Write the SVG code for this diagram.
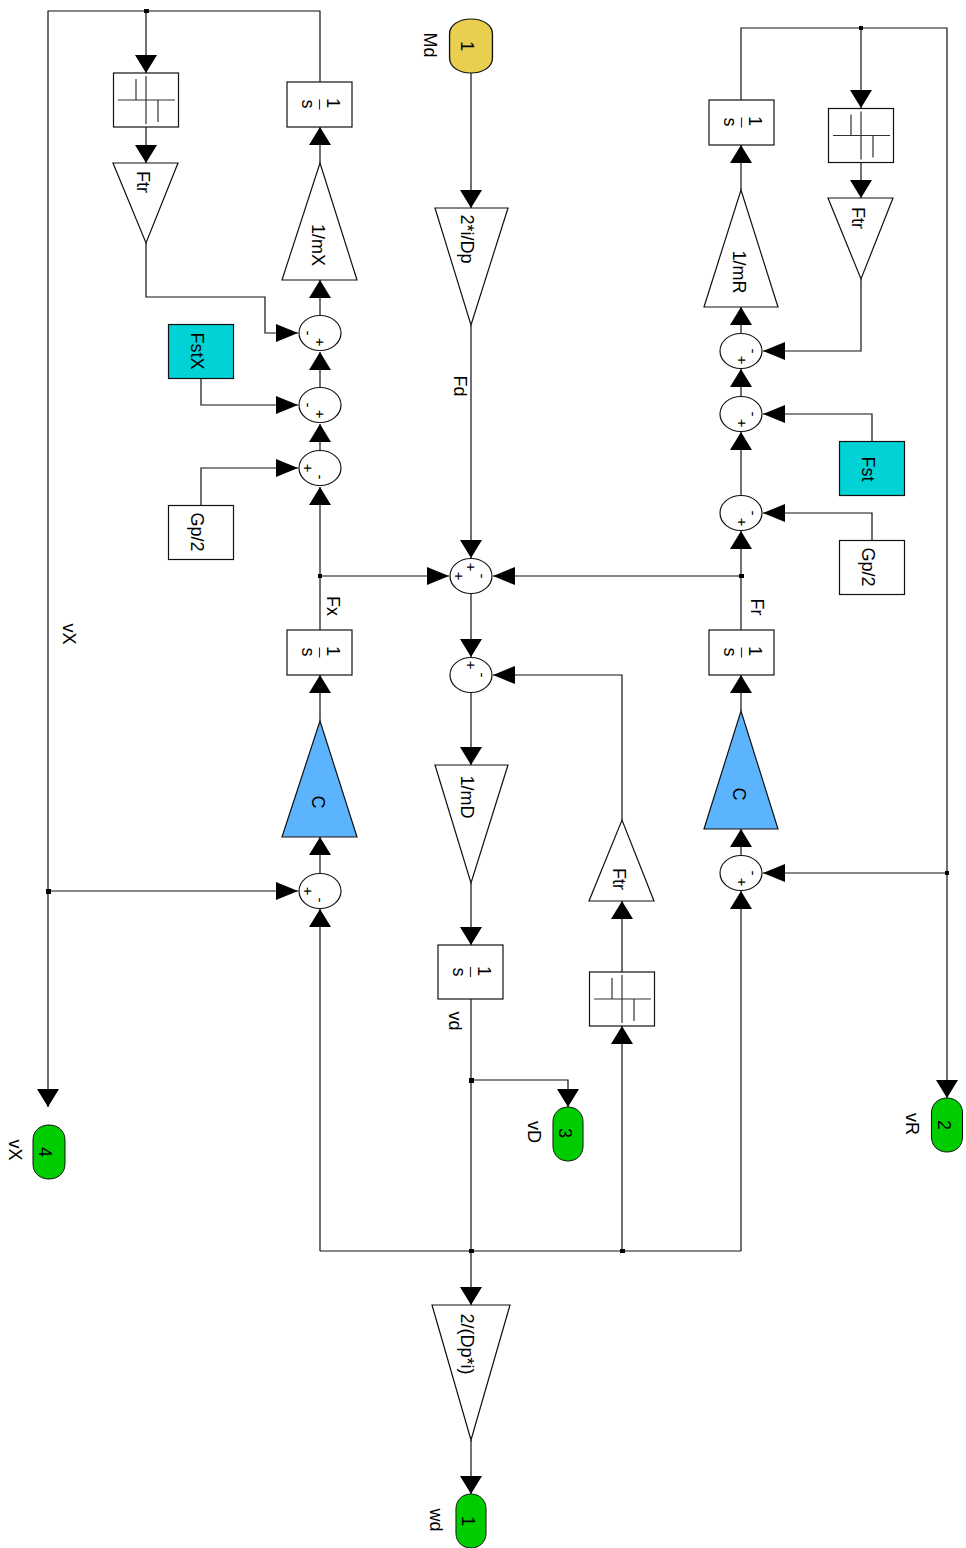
<svg xmlns="http://www.w3.org/2000/svg" width="966" height="1548" viewBox="0 0 966 1548">
<style>
text{font-family:"Liberation Sans",Arial,sans-serif;font-size:18px;fill:#000;text-anchor:middle}
.s{font-size:15px}
.b{fill:#fff;stroke:#111;stroke-width:1.2}
.c{fill:#00d2d6;stroke:#111;stroke-width:1.2}
.t{fill:#5cb4ff;stroke:#111;stroke-width:1.2}
.g{fill:#00cd00;stroke:#111;stroke-width:1}
.y{fill:#e8cf50;stroke:#111;stroke-width:1}
.w{fill:none;stroke:#111;stroke-width:1.2}
.a{marker-end:url(#a)}
.h{marker-end:url(#h)}
.k{fill:none;stroke:#333;stroke-width:1.2}
</style>
<defs>
<marker id="a" markerUnits="userSpaceOnUse" markerWidth="19" markerHeight="24" refX="18" refY="12" orient="auto"><path d="M0,1 L18,12 L0,23z" fill="#000"/></marker>
<marker id="h" markerUnits="userSpaceOnUse" markerWidth="23" markerHeight="20" refX="22" refY="10" orient="auto"><path d="M0,1 L22,10 L0,19z" fill="#000"/></marker>
<g id="sw"><rect class="b" x="-32.500" y="-27" width="65" height="54"/><path class="k" d="M-28,0H29M0,-24V24M-10,-21V0M12,0V22"/></g>
<g id="int"><rect class="b" x="-32.500" y="-22.500" width="65" height="45"/><path class="k" d="M0,-5V5"/></g>
<g id="int54"><rect class="b" x="-32.500" y="-27" width="65" height="54"/><path class="k" d="M0,-5V5"/></g>
<ellipse id="sum" class="b" rx="21" ry="17.500"/>
<path id="pill" d="M-16,-12 C-16,-21 -9,-27 0,-27 C9,-27 16,-21 16,-12 V12 C16,21 9,27 0,27 C-9,27 -16,21 -16,12Z"/>
</defs>

<g id="connectors">
<path class="w a" d="M320,82V11H48V1107"/>
<path class="w a" d="M146,11V73"/>
<path class="w a" d="M146,127V163"/>
<path class="w h" d="M146,243V297H265V333H298"/>
<path class="w h" d="M201,378V405H298"/>
<path class="w h" d="M201,505V468H298"/>
<path class="w a" d="M320,630V487"/>
<path class="w a" d="M320,450V424"/>
<path class="w a" d="M320,387V352"/>
<path class="w a" d="M320,315V280"/>
<path class="w a" d="M320,163V127"/>
<path class="w a" d="M320,721V675"/>
<path class="w a" d="M320,873V837"/>
<path class="w a" d="M320,1251V909"/>
<path class="w h" d="M48,891H298"/>
<path class="w a" d="M471,73V208"/>
<path class="w a" d="M471,325V558"/>
<path class="w h" d="M320,576H449"/>
<path class="w h" d="M741,576H493"/>
<path class="w a" d="M471,594V657"/>
<path class="w h" d="M622,820V675H493"/>
<path class="w a" d="M471,693V765"/>
<path class="w a" d="M471,883V945"/>
<path class="w a" d="M471,999V1305"/>
<path class="w a" d="M471,1080H568V1107"/>
<path class="w a" d="M471,1440V1494"/>
<path class="w" d="M320,1251H741"/>
<path class="w a" d="M622,1251V1026"/>
<path class="w a" d="M622,972V901"/>
<path class="w a" d="M741,1251V891"/>
<path class="w a" d="M741,855V829"/>
<path class="w a" d="M741,711V675"/>
<path class="w a" d="M741,630V531"/>
<path class="w a" d="M741,495V432"/>
<path class="w a" d="M741,396V369"/>
<path class="w a" d="M741,333V307"/>
<path class="w a" d="M741,190V145"/>
<path class="w a" d="M741,100V28H947V1098"/>
<path class="w a" d="M861,28V108"/>
<path class="w a" d="M861,163V198"/>
<path class="w h" d="M861,279V351H763"/>
<path class="w h" d="M872,441V414H763"/>
<path class="w h" d="M872,540V513H763"/>
<path class="w h" d="M947,873H763"/>
<g fill="#000">
<rect x="144" y="9" width="5" height="4"/><rect x="46" y="889" width="5" height="5"/><rect x="318" y="574" width="4" height="4"/>
<rect x="739" y="574" width="5" height="4"/><rect x="469" y="1078" width="5" height="5"/><rect x="469" y="1249" width="5" height="4"/>
<rect x="620" y="1249" width="5" height="4"/><rect x="859" y="26" width="4" height="4"/><rect x="945" y="871" width="4" height="4"/>
</g>
</g>

<g id="sw1"><use href="#sw" x="146" y="100"/></g>
<g id="ftr1"><path class="b" d="M113,163H178L146,243Z"/><text transform="translate(137,182) rotate(90)">Ftr</text></g>
<g id="int1"><use href="#int" x="319.500" y="104.500"/><text transform="translate(327,103) rotate(90)">1</text><text transform="translate(302,104) rotate(90)">s</text></g>
<g id="gain1"><path class="b" d="M320,163L357,280H282Z"/><text transform="translate(312,245) rotate(90)">1/mX</text></g>
<g id="fstx"><rect class="c" x="168.500" y="324.500" width="65" height="54"/><text transform="translate(191,351) rotate(90)">FstX</text></g>
<g id="gp1"><rect class="b" x="168.500" y="505.500" width="65" height="54"/><text transform="translate(191,532) rotate(90)">Gp/2</text></g>
<g id="sum1"><use href="#sum" x="320" y="333"/><text class="s" transform="translate(308,333) rotate(90)" y="5">-</text><text class="s" transform="translate(320,342) rotate(90)" y="5">+</text></g>
<g id="sum2"><use href="#sum" x="320" y="405"/><text class="s" transform="translate(308,405) rotate(90)" y="5">-</text><text class="s" transform="translate(320,414) rotate(90)" y="5">+</text></g>
<g id="sum3"><use href="#sum" x="320" y="468"/><text class="s" transform="translate(308,468) rotate(90)" y="5">+</text><text class="s" transform="translate(320,477) rotate(90)" y="5">-</text></g>
<g id="int2"><use href="#int" x="319.500" y="652.500"/><text transform="translate(327,651) rotate(90)">1</text><text transform="translate(302,652) rotate(90)">s</text></g>
<g id="c1"><path class="t" d="M320,721L357,837H282Z"/><text transform="translate(312,802) rotate(90)">C</text></g>
<g id="sum4"><use href="#sum" x="320" y="891"/><text class="s" transform="translate(308,891) rotate(90)" y="5">+</text><text class="s" transform="translate(320,900) rotate(90)" y="5">-</text></g>

<g id="md"><use href="#pill" transform="translate(471,46) scale(1.340,1)" class="y"/><text transform="translate(461,46) rotate(90)">1</text></g>
<g id="gain2"><path class="b" d="M435,208H508L471,325Z"/><text transform="translate(461,239) rotate(90)">2*i/Dp</text></g>
<g id="sum5"><use href="#sum" x="471" y="576"/><text class="s" transform="translate(471,567) rotate(90)" y="5">+</text><text class="s" transform="translate(459,576) rotate(90)" y="5">+</text><text class="s" transform="translate(482,576) rotate(90)" y="5">-</text></g>
<g id="sum6"><use href="#sum" x="471" y="675"/><text class="s" transform="translate(471,665) rotate(90)" y="5">+</text><text class="s" transform="translate(482,675) rotate(90)" y="5">-</text></g>
<g id="gain3"><path class="b" d="M435,765H508L471,883Z"/><text transform="translate(461,797) rotate(90)">1/mD</text></g>
<g id="int3"><use href="#int54" x="470.500" y="972"/><text transform="translate(478,971) rotate(90)">1</text><text transform="translate(453,972) rotate(90)">s</text></g>
<g id="gain4"><path class="b" d="M432,1305H510L471,1440Z"/><text transform="translate(461,1344) rotate(90)">2/(Dp*i)</text></g>
<g id="sw2"><use href="#sw" x="622" y="999"/></g>
<g id="ftr2"><path class="b" d="M589,901H654L622,820Z"/><text transform="translate(613,879) rotate(90)">Ftr</text></g>

<g id="sw3"><use href="#sw" x="861" y="135.500"/></g>
<g id="ftr3"><path class="b" d="M828,198H893L861,279Z"/><text transform="translate(852,218) rotate(90)">Ftr</text></g>
<g id="int4"><use href="#int" x="741.500" y="122.500"/><text transform="translate(749,121) rotate(90)">1</text><text transform="translate(724,122) rotate(90)">s</text></g>
<g id="gain5"><path class="b" d="M741,190L778,307H704Z"/><text transform="translate(733,272) rotate(90)">1/mR</text></g>
<g id="sum7"><use href="#sum" x="741" y="351"/><text class="s" transform="translate(753,351) rotate(90)" y="5">-</text><text class="s" transform="translate(742,360) rotate(90)" y="5">+</text></g>
<g id="sum8"><use href="#sum" x="741" y="414"/><text class="s" transform="translate(753,414) rotate(90)" y="5">-</text><text class="s" transform="translate(742,423) rotate(90)" y="5">+</text></g>
<g id="sum9"><use href="#sum" x="741" y="513"/><text class="s" transform="translate(753,513) rotate(90)" y="5">-</text><text class="s" transform="translate(742,522) rotate(90)" y="5">+</text></g>
<g id="fst"><rect class="c" x="839.500" y="441.500" width="65" height="54"/><text transform="translate(862,469) rotate(90)">Fst</text></g>
<g id="gp2"><rect class="b" x="839.500" y="540.500" width="65" height="54"/><text transform="translate(862,567) rotate(90)">Gp/2</text></g>
<g id="int5"><use href="#int" x="741.500" y="652.500"/><text transform="translate(749,651) rotate(90)">1</text><text transform="translate(724,652) rotate(90)">s</text></g>
<g id="c2"><path class="t" d="M741,711L778,829H704Z"/><text transform="translate(733,794) rotate(90)">C</text></g>
<g id="sum10"><use href="#sum" x="741" y="873"/><text class="s" transform="translate(753,873) rotate(90)" y="5">-</text><text class="s" transform="translate(742,882) rotate(90)" y="5">+</text></g>

<g id="out4"><use href="#pill" transform="translate(49,1152)" class="g"/><text transform="translate(39,1152) rotate(90)">4</text></g>
<g id="out3"><use href="#pill" transform="translate(568,1134) scale(.94,1)" class="g"/><text transform="translate(559,1133) rotate(90)">3</text></g>
<g id="out2"><use href="#pill" transform="translate(947,1125) scale(.97,1)" class="g"/><text transform="translate(938,1125) rotate(90)">2</text></g>
<g id="out1"><use href="#pill" transform="translate(471,1521) scale(.94,1)" class="g"/><text transform="translate(462,1521) rotate(90)">1</text></g>

<g id="labels">
<text transform="translate(63,634) rotate(90)">vX</text>
<text transform="translate(327,606) rotate(90)">Fx</text>
<text transform="translate(454,386) rotate(90)">Fd</text>
<text transform="translate(424,45) rotate(90)">Md</text>
<text transform="translate(751,607) rotate(90)">Fr</text>
<text transform="translate(449,1021) rotate(90)">vd</text>
<text transform="translate(528,1132) rotate(90)">vD</text>
<text transform="translate(906,1124) rotate(90)">vR</text>
<text transform="translate(9,1150) rotate(90)">vX</text>
<text transform="translate(430,1520) rotate(90)">wd</text>
</g>
</svg>
